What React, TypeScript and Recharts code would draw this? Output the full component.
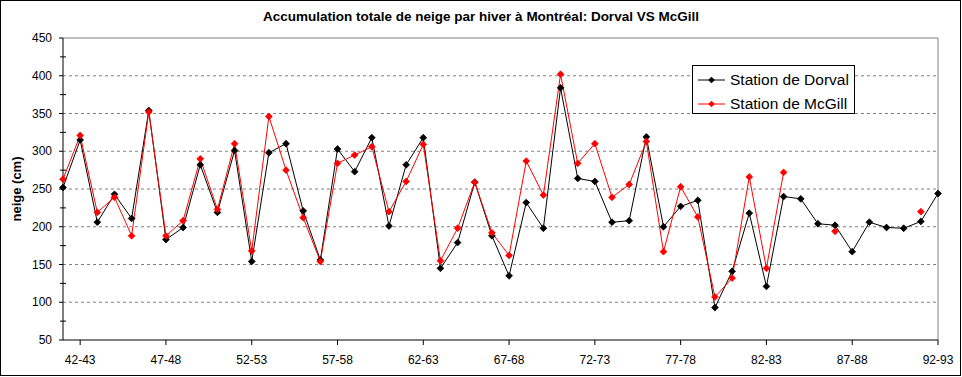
import React from 'react';
import { LineChart, Line, XAxis, YAxis, ReferenceLine, Legend } from 'recharts';

const seasons = [
  '41-42', '42-43', '43-44', '44-45', '45-46', '46-47', '47-48', '48-49', '49-50', '50-51',
  '51-52', '52-53', '53-54', '54-55', '55-56', '56-57', '57-58', '58-59', '59-60', '60-61',
  '61-62', '62-63', '63-64', '64-65', '65-66', '66-67', '67-68', '68-69', '69-70', '70-71',
  '71-72', '72-73', '73-74', '74-75', '75-76', '76-77', '77-78', '78-79', '79-80', '80-81',
  '81-82', '82-83', '83-84', '84-85', '85-86', '86-87', '87-88', '88-89', '89-90', '90-91',
  '91-92', '92-93',
];

// Station de Dorval (cm)
const dorval = [
  252, 315, 206, 243, 211, 354, 183, 199, 282, 219,
  301, 154, 298, 310, 221, 156, 303, 273, 318, 201,
  282, 318, 145, 179, 259, 188, 135, 232, 198, 384,
  264, 260, 206, 208, 319, 200, 227, 235, 93, 141,
  218, 121, 240, 237, 204, 202, 167, 206, 199, 198,
  207, 244,
];

// Station de McGill (cm), null = pas de mesure
const mcgill = [
  263, 321, 219, 239, 188, 352, 188, 208, 290, 223,
  310, 168, 346, 275, 212, 154, 284, 295, 306, 220,
  260, 309, 155, 198, 259, 192, 162, 287, 242, 402,
  284, 310, 239, 256, 313, 167, 253, 213, 107, 132,
  266, 145, 272, null, null, 194, null, null, null, null,
  220, null,
];

const yTicks = [50, 75, 100, 125, 150, 175, 200, 225, 250, 275, 300, 325, 350, 375, 400, 425, 450];
const gridValues = [100, 150, 200, 250, 300, 350, 400];

const FONT = '"Liberation Sans", Arial, sans-serif';

const data = seasons.map((season, k) => ({ season, dorval: dorval[k], mcgill: mcgill[k] }));

const Diamond = (props: any) => {
  const { cx, cy, stroke, index } = props;
  if (cx == null || cy == null || props.value == null) return <g key={`d-${index}`} />;
  const r = 3.4;
  return (
    <path
      key={`d-${index}`}
      d={`M${cx},${cy - r}L${cx + r},${cy}L${cx},${cy + r}L${cx - r},${cy}Z`}
      fill={stroke}
      stroke={stroke}
      strokeWidth={0.8}
    />
  );
};

const XTick = (p: any) => {
  const { x, y, payload } = p;
  const idx = seasons.indexOf(payload.value);
  if (idx % 5 !== 1) return <g />;
  const axisY = y - 15;
  return (
    <g>
      <line x1={x} x2={x} y1={axisY} y2={axisY + 5} stroke="#000" />
      <text x={x} y={axisY + 24} textAnchor="middle" fontSize={12} fontFamily={FONT} fill="#000">
        {payload.value}
      </text>
    </g>
  );
};

const YTick = (p: any) => {
  const { x, y, payload } = p;
  const v = payload.value;
  const axisX = x + 11;
  if (v % 50 !== 0) {
    return <line x1={axisX - 3} x2={axisX + 3} y1={y} y2={y} stroke="#000" />;
  }
  return (
    <g>
      <line x1={axisX - 4} x2={axisX} y1={y} y2={y} stroke="#000" />
      <text x={x} y={y + 4} textAnchor="end" fontSize={12} fontFamily={FONT} fill="#000">
        {v}
      </text>
    </g>
  );
};

const YLabel = (p: any) => {
  const vb = p.viewBox;
  const cy = vb && vb.height ? vb.y + vb.height / 2 : 189;
  const lx = 21;
  return (
    <text
      x={lx}
      y={cy}
      transform={`rotate(-90, ${lx}, ${cy})`}
      textAnchor="middle"
      fontSize={13}
      fontWeight="bold"
      fontFamily={FONT}
      fill="#000"
    >
      neige (cm)
    </text>
  );
};

const renderLegend = (props: any) => {
  const items = props.payload || [];
  return (
    <div
      style={{
        width: 163,
        height: 49,
        border: '1px solid #000',
        background: '#fff',
        boxSizing: 'border-box',
        position: 'relative',
      }}
    >
      {items.map((it: any, k: number) => (
        <div key={it.value} style={{ position: 'absolute', left: 0, top: 13.5 + k * 24 - 8, height: 16, width: 160 }}>
          <svg width={34} height={16} style={{ position: 'absolute', left: 0, top: 0 }}>
            <line x1={5} x2={32} y1={8} y2={8} stroke={it.color} />
            <path d="M18.5,4.7L21.8,8L18.5,11.3L15.2,8Z" fill={it.color} />
          </svg>
          <span
            style={{
              position: 'absolute',
              left: 37,
              top: -1,
              fontFamily: FONT,
              fontSize: 15.5,
              lineHeight: '18px',
              color: '#000',
              whiteSpace: 'nowrap',
            }}
          >
            {it.value}
          </span>
        </div>
      ))}
    </div>
  );
};

export default function App() {
  return (
    <div style={{ position: 'absolute', left: 0, top: 0, width: 962, height: 377, background: '#fff' }}>
      <div
        style={{
          position: 'absolute',
          left: 0,
          top: 9,
          width: 962,
          textAlign: 'center',
          fontFamily: FONT,
          fontWeight: 'bold',
          fontSize: 13.5,
          lineHeight: '16px',
          color: '#000',
        }}
      >
        Accumulation totale de neige par hiver à Montréal: Dorval VS McGill
      </div>
      <div style={{ position: 'absolute', left: 0, top: 0 }}>
        <LineChart width={962} height={377} data={data} margin={{ top: 38, right: 24, left: 0, bottom: 7 }}>
          {gridValues.map((v) => (
            <ReferenceLine key={v} y={v} stroke="#808080" strokeDasharray="3 3" />
          ))}
          <ReferenceLine y={450} stroke="#808080" />
          <ReferenceLine x="92-93" stroke="#808080" />
          <XAxis
            dataKey="season"
            interval={0}
            tickLine={false}
            axisLine={{ stroke: '#000' }}
            tickSize={5}
            tickMargin={10}
            height={30}
            tick={(p: any) => <XTick {...p} />}
          />
          <YAxis
            width={63}
            domain={[50, 450]}
            ticks={yTicks}
            interval={0}
            type="number"
            allowDataOverflow
            tickLine={false}
            axisLine={{ stroke: '#000' }}
            tickSize={4}
            tickMargin={7}
            tick={(p: any) => <YTick {...p} />}
            label={(p: any) => <YLabel {...p} />}
          />
          <Legend
            layout="horizontal"
            verticalAlign="middle"
            align="center"
            wrapperStyle={{ left: 692, top: 65, width: 163, height: 49 }}
            content={renderLegend}
          />
          <Line
            type="linear"
            dataKey="dorval"
            name="Station de Dorval"
            stroke="#000000"
            strokeWidth={1}
            dot={(p: any) => <Diamond {...p} />}
            activeDot={false}
            isAnimationActive={false}
          />
          <Line
            type="linear"
            dataKey="mcgill"
            name="Station de McGill"
            stroke="#ff0000"
            strokeWidth={1}
            dot={(p: any) => <Diamond {...p} />}
            activeDot={false}
            isAnimationActive={false}
          />
        </LineChart>
      </div>
      <div
        style={{
          position: 'absolute',
          left: 0,
          top: 0,
          width: 961,
          height: 376,
          border: '1px solid #000',
          boxSizing: 'border-box',
          pointerEvents: 'none',
        }}
      />
    </div>
  );
}
